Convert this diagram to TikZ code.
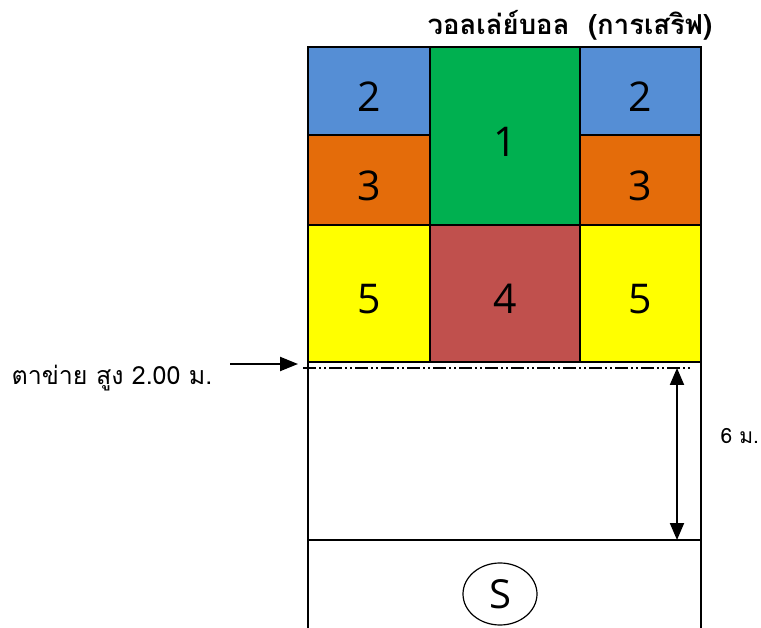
\documentclass[tikz,border=0pt]{standalone}
\usepackage{fontspec}
\usetikzlibrary{arrows.meta,shapes.geometric}
\newfontfamily\thaifont[Script=Thai]{Loma}
\newfontfamily\numfont{Open Sans}
\definecolor{cblue}{HTML}{558ED5}
\definecolor{cgreen}{HTML}{00B050}
\definecolor{corange}{HTML}{E46C0A}
\definecolor{cyellow}{HTML}{FFFF00}
\definecolor{cred}{HTML}{C0504D}
\tikzset{
  zone/.style={draw=black, line width=2.5pt, rectangle, inner sep=0pt,
    font=\numfont\fontsize{41}{41}\selectfont, text height=41pt, text depth=0pt},
  courtline/.style={draw=black, line width=2pt},
  netline/.style={draw=black, line width=1.5pt, dash pattern=on 13pt off 3pt on 2pt off 3pt on 2pt off 3pt},
  dimarrow/.style={line width=2pt, {Triangle[length=17pt,width=14pt]}-{Triangle[length=17pt,width=14pt]}},
  pointer/.style={line width=2.2pt, -{Triangle[length=18pt,width=14pt]}}
}
\begin{document}
\begin{tikzpicture}[x=1pt,y=-1pt]
\useasboundingbox (0,0) rectangle (761,628);
% court lines
\coordinate (ctl) at (308,362);
\coordinate (ctr) at (701,362);
\coordinate (cbl) at (308,628);
\coordinate (cbr) at (701,628);
\coordinate (sl) at (308,540);
\coordinate (sr) at (701,540);
\draw[courtline] (ctl) -- (cbl);
\draw[courtline] (ctr) -- (cbr);
\draw[courtline] (sl) -- (sr);
\draw[courtline] (ctl) -- (ctr);
% zones
\node[zone, fill=cblue, minimum width=122pt, minimum height=88pt] (z2l) at (369,91) {2};
\node[zone, fill=corange, minimum width=122pt, minimum height=90pt] (z3l) at (369,180) {3};
\node[zone, fill=cyellow, minimum width=122pt, minimum height=137pt] (z5l) at (369,293.5) {5};
\node[zone, fill=cgreen, minimum width=150pt, minimum height=178pt] (z1) at (505,136) {1};
\node[zone, fill=cred, minimum width=150pt, minimum height=137pt] (z4) at (505,293.5) {4};
\node[zone, fill=cblue, minimum width=121pt, minimum height=88pt] (z2r) at (640.5,91) {2};
\node[zone, fill=corange, minimum width=121pt, minimum height=90pt] (z3r) at (640.5,180) {3};
\node[zone, fill=cyellow, minimum width=121pt, minimum height=137pt] (z5r) at (640.5,293.5) {5};
% title
\node[font=\thaifont\bfseries\fontsize{27.5}{27.5}\selectfont] (title) at (570,25) {วอลเล่ย์บอล\ \ (การเสริฟ)};
% net
\coordinate (netl) at (303,368);
\coordinate (netr) at (692,368);
\draw[netline] (netl) -- (netr);
\node[font=\thaifont\fontsize{25}{25}\selectfont, anchor=west] (netlabel) at (8,378) {ตาข่าย สูง 2.00 ม.};
\coordinate (ptrs) at (230,364);
\coordinate (ptre) at (298,364);
\draw[pointer] (ptrs) -- (ptre);
% dimension
\coordinate (dimt) at (677,368);
\coordinate (dimb) at (677,540);
\draw[dimarrow] (dimt) -- (dimb);
\node[font=\thaifont\fontsize{21}{21}\selectfont, anchor=west] (dimlabel) at (717,436) {6 ม.};
% server
\node[draw=black, line width=1.2pt, ellipse, minimum width=74pt, minimum height=62pt, inner sep=0pt,
  font=\numfont\fontsize{40}{40}\selectfont] (server) at (500,594) {S};
\end{tikzpicture}
\end{document}
